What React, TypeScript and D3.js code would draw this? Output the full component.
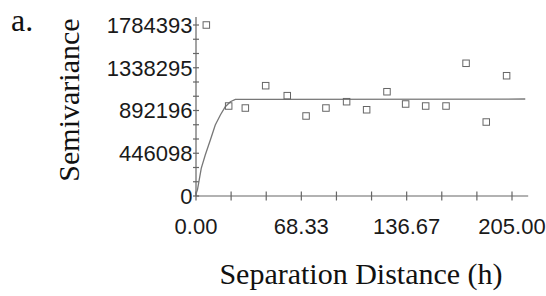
import { useEffect, useRef } from "react";
import * as d3 from "d3";

// experimental semivariogram points (lag distance, semivariance)
const lagDist = [6.7, 21.2, 32.0, 45.2, 59.2, 71.4, 84.3, 97.7, 110.7, 123.9, 136.0, 149.0, 162.2, 175.2, 188.3, 201.5];
const semiVals = [1784393, 939000, 918000, 1151000, 1047000, 835000, 918000, 984000, 900000, 1088000, 960000, 939000, 939000, 1385000, 772000, 1255000];

// fitted model curve
const modelX = [0, 1.0, 3.4, 6.0, 9.3, 12.5, 15.8, 19.0, 22.3, 25.5, 213.6];
const modelY = [20000, 69900, 289000, 428000, 584000, 741000, 845000, 932000, 984000, 1009000, 1012000];

const yTickLabels = ["0", "446098", "892196", "1338295", "1784393"];
const xTickLabels = ["0.00", "68.33", "136.67", "205.00"];

export default function App() {
  const ref = useRef<SVGSVGElement>(null);

  useEffect(() => {
    if (!ref.current) return;
    const svg = d3.select(ref.current);
    svg.selectAll("*").remove();

    const x = d3.scaleLinear().domain([0, 205]).range([196, 512]);
    const y = d3.scaleLinear().domain([0, 1784393]).range([196, 25]);
    const axisCol = "#666";

    // axes lines
    svg.append("line")
      .attr("x1", x(0)).attr("x2", x(215.5))
      .attr("y1", y(0)).attr("y2", y(0))
      .attr("stroke", axisCol).attr("stroke-width", 1.2);
    svg.append("line")
      .attr("x1", x(0)).attr("x2", x(0))
      .attr("y1", y(0)).attr("y2", 17)
      .attr("stroke", axisCol).attr("stroke-width", 1.2);

    // x ticks, every 205/9
    const xt = d3.range(0, 10).map(i => (205 / 9) * i);
    svg.selectAll(".xt").data(xt).enter().append("line")
      .attr("x1", d => x(d)).attr("x2", d => x(d))
      .attr("y1", y(0) - 4.5).attr("y2", y(0) + 4.5)
      .attr("stroke", axisCol).attr("stroke-width", 1.2);

    // y ticks, thirds of major step
    const yt = d3.range(0, 13).map(i => (1784393 / 12) * i);
    svg.selectAll(".yt").data(yt).enter().append("line")
      .attr("x1", x(0) - 3).attr("x2", x(0) + 3)
      .attr("y1", d => y(d)).attr("y2", d => y(d))
      .attr("stroke", axisCol).attr("stroke-width", 1.2);

    // tick labels
    svg.selectAll(".yl").data(yTickLabels).enter().append("text")
      .attr("x", x(0) - 3.5)
      .attr("y", d => y(+d))
      .attr("dy", "0.36em")
      .attr("text-anchor", "end")
      .attr("font-family", "'Liberation Sans', Arial, sans-serif")
      .attr("font-size", 22)
      .attr("fill", "#1a1a1a")
      .text(d => d);

    svg.selectAll(".xl").data(xTickLabels).enter().append("text")
      .attr("x", d => x(+d))
      .attr("y", 234)
      .attr("text-anchor", "middle")
      .attr("font-family", "'Liberation Sans', Arial, sans-serif")
      .attr("font-size", 22)
      .attr("fill", "#1a1a1a")
      .text(d => d);

    // model line
    const line = d3.line<number>()
      .x((_, i) => x(modelX[i]))
      .y(d => y(d));
    svg.append("path")
      .datum(modelY)
      .attr("d", line)
      .attr("fill", "none")
      .attr("stroke", "#777")
      .attr("stroke-width", 1.3);

    // points
    const s = 6.5;
    svg.selectAll(".pt").data(lagDist).enter().append("rect")
      .attr("x", d => x(d) - s / 2)
      .attr("y", (_, i) => y(semiVals[i]) - s / 2)
      .attr("width", s).attr("height", s)
      .attr("fill", "none")
      .attr("stroke", "#666")
      .attr("stroke-width", 1);

    // titles
    svg.append("text")
      .attr("x", 11).attr("y", 31)
      .attr("font-family", "'Liberation Serif', 'Times New Roman', serif")
      .attr("font-size", 32)
      .attr("fill", "#111")
      .text("a.");

    svg.append("text")
      .attr("transform", "translate(79,100) rotate(-90)")
      .attr("text-anchor", "middle")
      .attr("font-family", "'Liberation Serif', 'Times New Roman', serif")
      .attr("font-size", 30)
      .attr("fill", "#111")
      .text("Semivariance");

    svg.append("text")
      .attr("x", 361).attr("y", 284)
      .attr("text-anchor", "middle")
      .attr("font-family", "'Liberation Serif', 'Times New Roman', serif")
      .attr("font-size", 30)
      .attr("fill", "#111")
      .text("Separation Distance (h)");
  }, []);

  return (
    <div style={{ position: "absolute", left: 0, top: 0, width: 546, height: 296, background: "#fff" }}>
      <svg ref={ref} width={546} height={296} />
    </div>
  );
}
